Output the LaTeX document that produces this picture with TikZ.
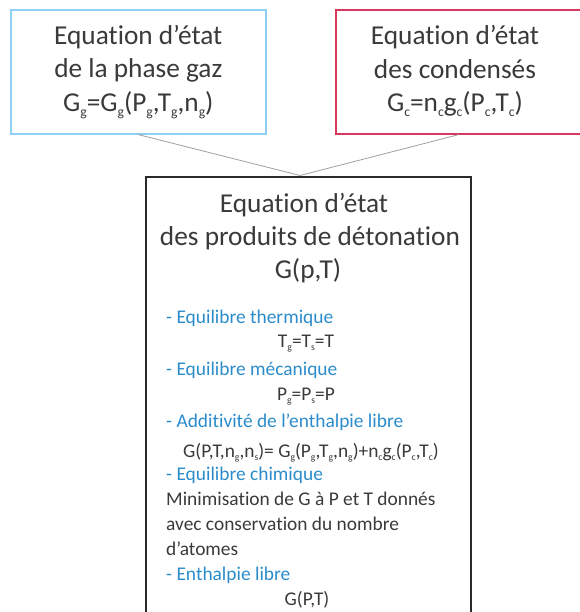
\documentclass[tikz,border=0pt]{standalone}
\usepackage{graphicx}
\usepackage{fontspec}
\setmainfont{Carlito}[Ligatures=NoCommon]
\definecolor{txt}{HTML}{3A3A3A}
\definecolor{itemblue}{HTML}{2B8CCB}
\definecolor{gasblue}{HTML}{8ECFF3}
\definecolor{condred}{HTML}{D8385E}
\definecolor{linkgray}{HTML}{A0A0A0}
\definecolor{detblack}{HTML}{2A2A2A}
\newcommand{\lo}[1]{\raisebox{-0.35ex}{\scalebox{0.5}{#1}}}
\begin{document}
\begin{tikzpicture}[x=1pt,y=-1pt,
  box/.style={draw,line width=1.6pt,inner sep=0pt},
  title/.style={font=\fontsize{27.3}{33.5}\selectfont,text=txt,align=center},
  tline/.style={font=\fontsize{27.3}{33.5}\selectfont,text=txt,inner sep=0pt,anchor=base},
  body/.style={font=\fontsize{19.4}{25}\selectfont,text=txt,inner sep=0pt},
  item/.style={body,text=itemblue,anchor=base west},
  plain/.style={body,anchor=base west},
  formula/.style={body,anchor=base},
  link/.style={draw=linkgray,line width=0.8pt}]
\useasboundingbox (0,0) rectangle (579,612);
% top boxes
\node[box,draw=gasblue,minimum width=255,minimum height=124,anchor=north west,title] (gas) at (10,9)
  {Equation d’état\\de la phase gaz\\G\lo{g}=G\lo{g}(P\lo{g},T\lo{g},n\lo{g})};
\node[box,draw=condred,minimum width=246,minimum height=124,anchor=north west] (cond) at (335,9) {};
\node[title] (condtxt) at (455,71)
  {Equation d’état\\des condensés\\G\lo{c}=n\lo{c}g\lo{c}(P\lo{c},T\lo{c})};
% bottom box
\node[box,draw=detblack,line width=1.8pt,minimum width=325,minimum height=460,anchor=north] (det) at (308.5,176) {};
\node[tline] (t1) at (304,212) {Equation d’état};
\node[tline] (t2) at (310,245) {des produits de détonation};
\node[tline] (t3) at (308,278) {G(p,T)};
% body
\node[item] (b1) at (166,323) {- Equilibre thermique};
\node[formula] (b2) at (306,347) {T\lo{g}=T\lo{s}=T};
\node[item] (b3) at (166,375) {- Equilibre mécanique};
\node[formula] (b4) at (306,400) {P\lo{g}=P\lo{s}=P};
\node[item] (b5) at (166,427) {- Additivité de l’enthalpie libre};
\node[formula] (b6) at (311,457) {G(P,T,n\lo{g},n\lo{s})= G\lo{g}(P\lo{g},T\lo{g},n\lo{g})+n\lo{c}g\lo{c}(P\lo{c},T\lo{c})};
\node[item] (b7) at (166,480) {- Equilibre chimique};
\node[plain] (b8) at (166,505) {Minimisation de G à P et T donnés};
\node[plain] (b9) at (166,530) {avec conservation du nombre};
\node[plain] (b10) at (166,555) {d’atomes};
\node[item] (b11) at (166,580) {- Enthalpie libre};
\node[formula] (b12) at (307,605) {G(P,T)};
% connectors
\coordinate (meet) at (300,175.5);
\draw[link] (gas.south) -- (meet);
\draw[link] (cond.south) -- (meet);
\end{tikzpicture}
\end{document}
